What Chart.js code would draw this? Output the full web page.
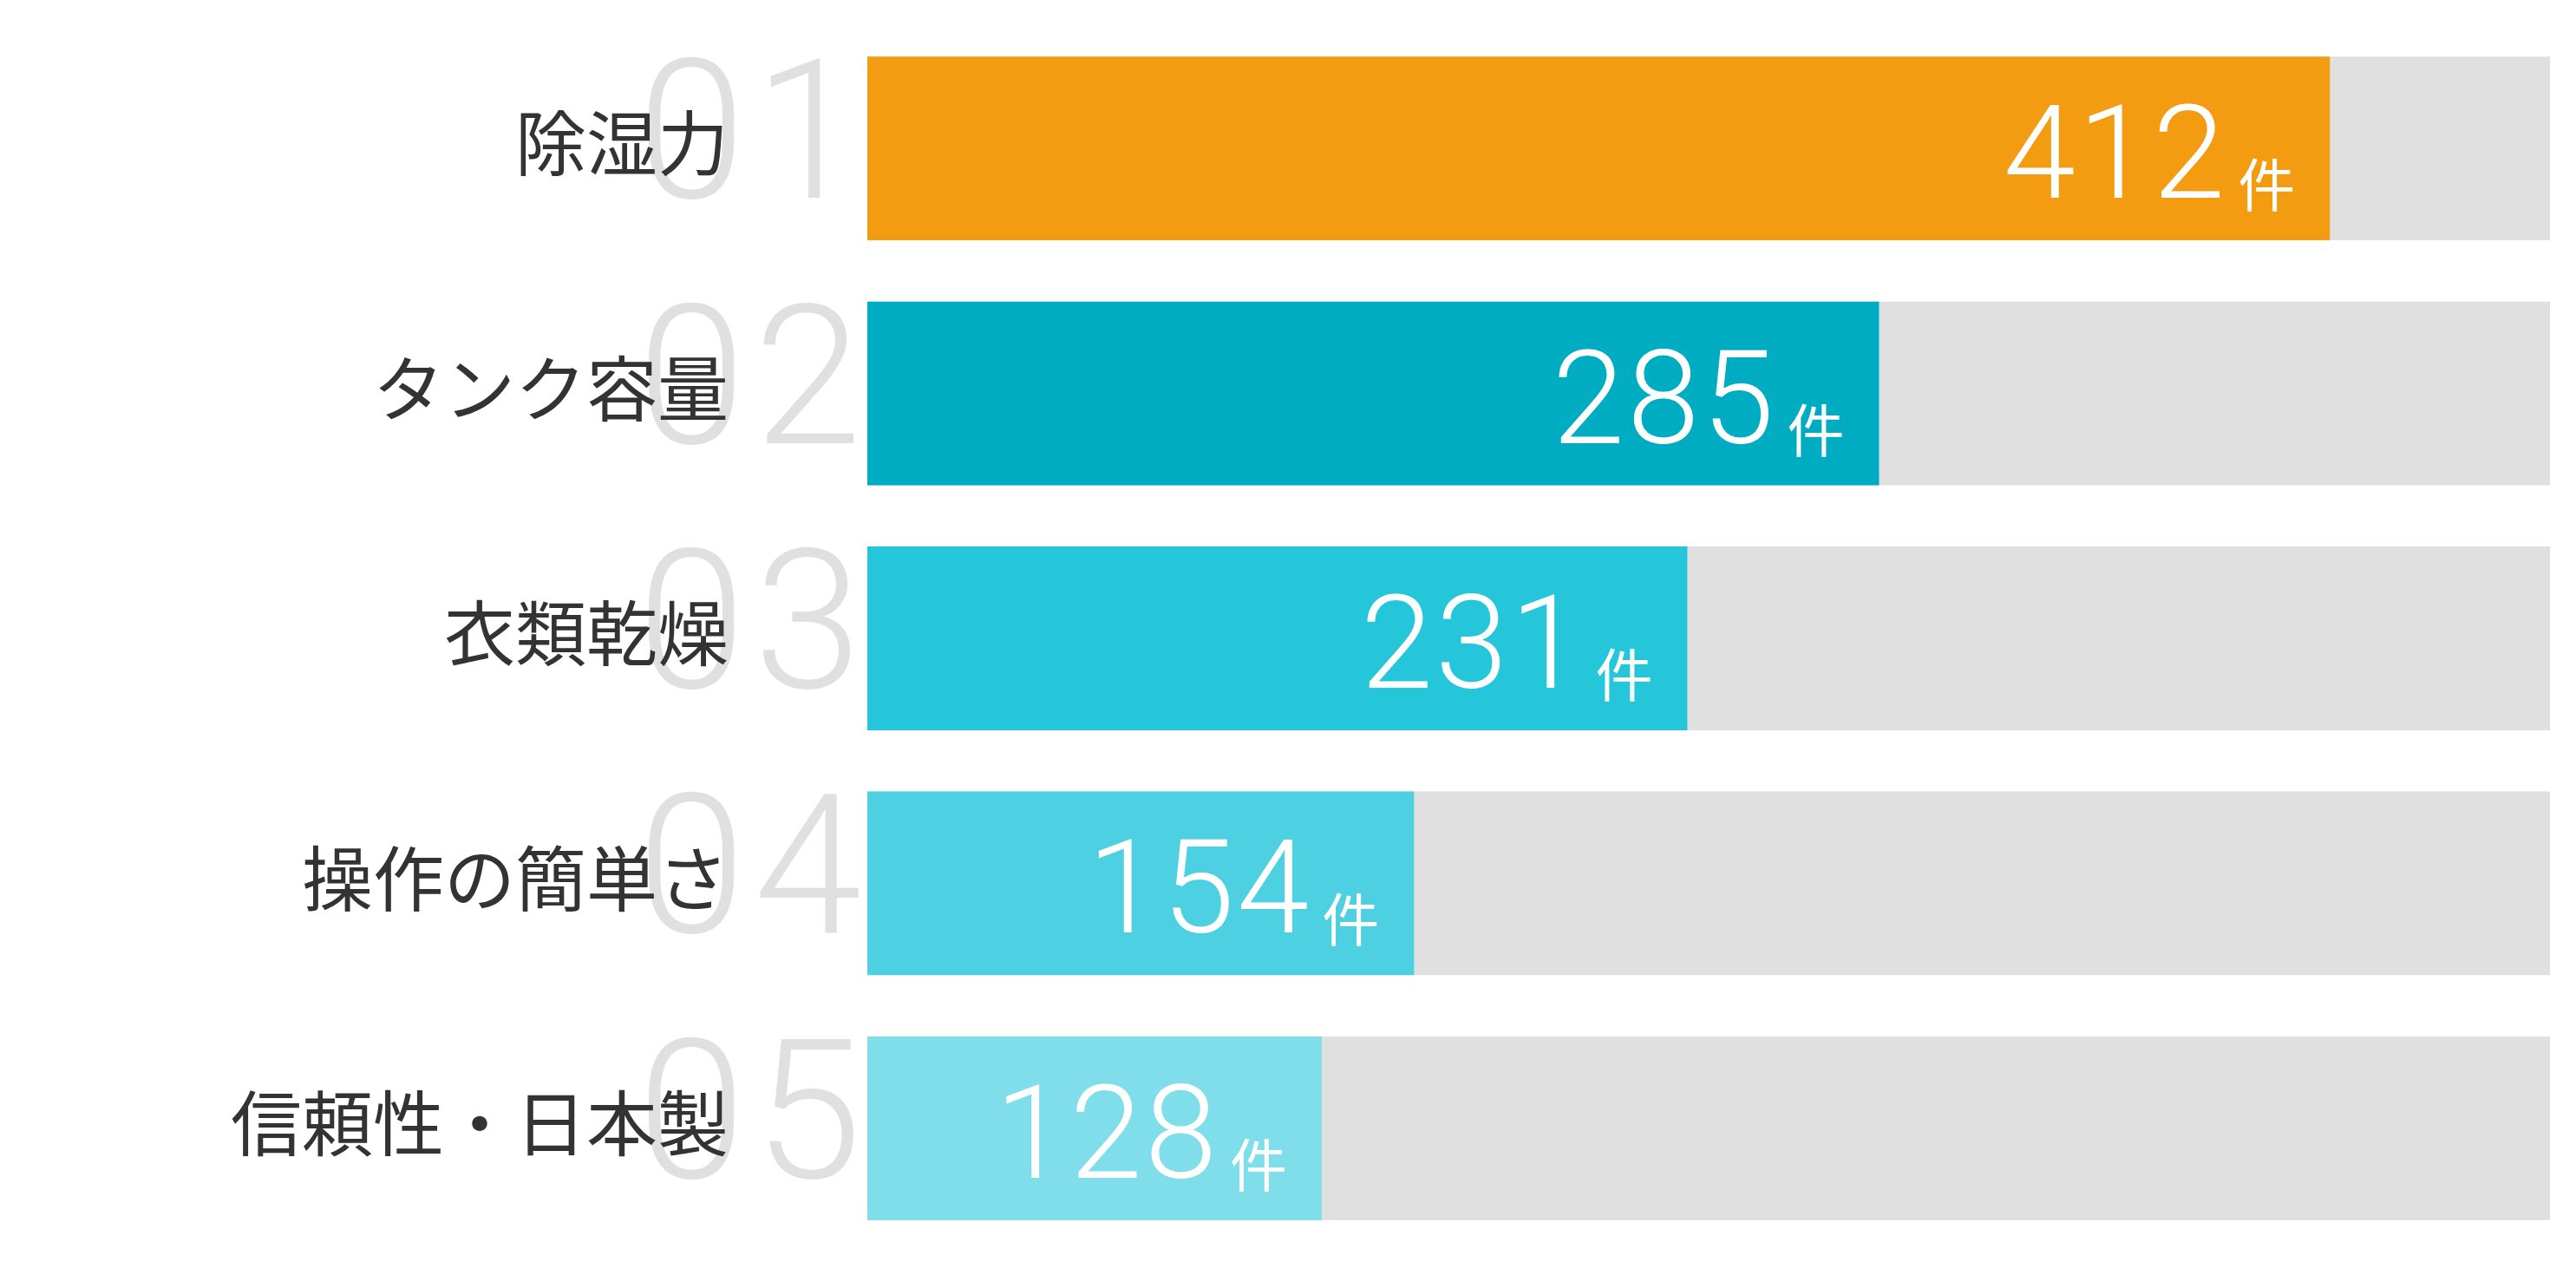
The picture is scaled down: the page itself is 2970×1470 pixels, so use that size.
<!DOCTYPE html>
<html>
<head>
<meta charset="utf-8">
<script src="https://cdn.jsdelivr.net/npm/chart.js@4/dist/chart.umd.min.js"></script>
<style>
  html, body { margin: 0; padding: 0; background: #ffffff; }
  #wrap { width: 2970px; height: 1470px; position: relative; }
</style>
</head>
<body>
<div id="wrap"><canvas id="myChart"></canvas></div>
<script>
// data
const categories = ["除湿力", "タンク容量", "衣類乾燥", "操作の簡単さ", "信頼性・日本製"];
const rankLabels = ["01", "02", "03", "04", "05"];
const counts = [412, 285, 231, 154, 128];
const unitLabel = "件";
const trackMax = 474; // gray track runs to the end of the axis
const barColors = ["#F39C12", "#00ACC1", "#26C6DA", "#4DD0E1", "#80DEEA"];
const trackColor = "#E0E0E0";

// big gray numbers + category names on the left
const sideLabels = {
  id: "sideLabels",
  beforeDatasetsDraw(chart) {
    const ctx = chart.ctx;
    const y = chart.scales.y;
    ctx.save();
    categories.forEach((name, i) => {
      const cy = y.getPixelForValue(i);
      ctx.fillStyle = "#E0E0E0";
      ctx.font = "300 224px Roboto";
      ctx.letterSpacing = "10px";
      ctx.textAlign = "left";
      ctx.textBaseline = "alphabetic";
      ctx.fillText(rankLabels[i], 735, cy + 57);
      ctx.letterSpacing = "0px";

      ctx.fillStyle = "#333333";
      ctx.font = "400 82px 'Noto Sans CJK JP'";
      ctx.textAlign = "right";
      ctx.textBaseline = "middle";
      ctx.fillText(name, 840, cy - 6);
    });
    ctx.restore();
  }
};

// value labels inside the end of each bar
const valueLabels = {
  id: "valueLabels",
  afterDatasetsDraw(chart) {
    const ctx = chart.ctx;
    const meta = chart.getDatasetMeta(1);
    ctx.save();
    ctx.fillStyle = "#ffffff";
    ctx.textBaseline = "alphabetic";
    ctx.textAlign = "right";
    meta.data.forEach((bar, i) => {
      const right = bar.x - 40;
      ctx.font = "400 66px 'Noto Sans CJK JP'";
      const uw = ctx.measureText(unitLabel).width;
      ctx.fillText(unitLabel, right, bar.y + 67);
      ctx.font = "300 150px Roboto";
      ctx.letterSpacing = "3px";
      ctx.fillText(String(counts[i]), right - uw - 12, bar.y + 57);
      ctx.letterSpacing = "0px";
    });
    ctx.restore();
  }
};

const ctx = document.getElementById("myChart").getContext("2d");
new Chart(ctx, {
  type: "bar",
  data: {
    labels: categories,
    datasets: [
      {
        label: "track",
        data: categories.map(() => trackMax),
        backgroundColor: trackColor,
        grouped: false,
        order: 2,
      },
      {
        label: "件数",
        data: counts,
        backgroundColor: barColors,
        grouped: false,
        order: 1,
      },
    ],
  },
  options: {
    indexAxis: "y",
    responsive: true,
    maintainAspectRatio: false,
    animation: false,
    devicePixelRatio: 1,
    datasets: {
      bar: {
        barPercentage: 0.75,
        categoryPercentage: 1,
        borderWidth: 0,
      },
    },
    layout: {
      padding: { left: 1000, right: 30, top: 30, bottom: 28 },
    },
    scales: {
      x: { display: false, min: 0, max: trackMax },
      y: { display: false },
    },
    plugins: {
      legend: { display: false },
      tooltip: { enabled: false },
    },
  },
  plugins: [sideLabels, valueLabels],
});
</script>
</body>
</html>
